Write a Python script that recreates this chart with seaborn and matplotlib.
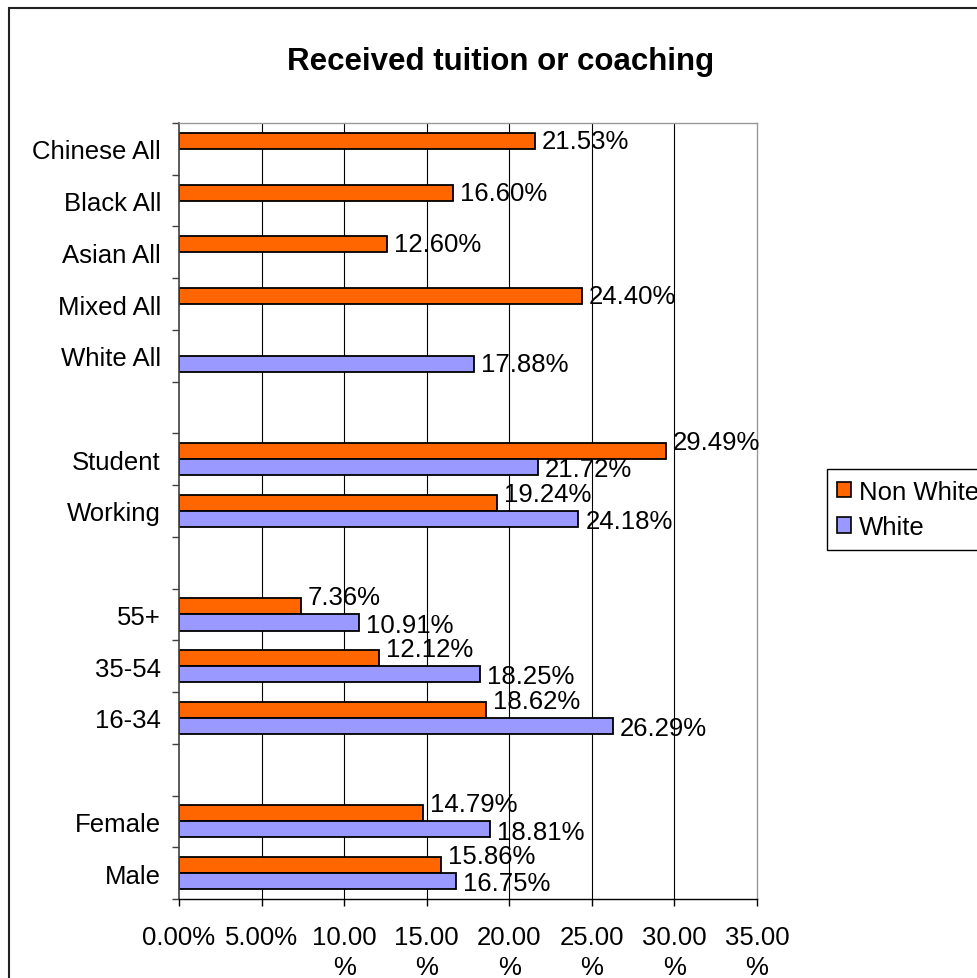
import numpy as np
import pandas as pd
import matplotlib
matplotlib.use("Agg")
import matplotlib.pyplot as plt
import matplotlib.patches as mpatches
import seaborn as sns

# categories top to bottom; "gapN" are empty spacer rows
categories = ["Chinese All", "Black All", "Asian All", "Mixed All", "White All", "gap1",
              "Student", "Working", "gap2", "55+", "35-54", "16-34", "gap3",
              "Female", "Male"]
non_white = [21.53, 16.60, 12.60, 24.40, np.nan, np.nan, 29.49, 19.24, np.nan,
             7.36, 12.12, 18.62, np.nan, 14.79, 15.86]
white = [np.nan, np.nan, np.nan, np.nan, 17.88, np.nan, 21.72, 24.18, np.nan,
         10.91, 18.25, 26.29, np.nan, 18.81, 16.75]
series_names = ["Non White", "White"]
series_colors = ["#FF6600", "#9999FF"]
xticks = [0, 5, 10, 15, 20, 25, 30, 35]

df = pd.DataFrame({"group": categories, "Non White": non_white, "White": white})
long = df.melt(id_vars="group", var_name="series", value_name="pct").dropna()

sns.set_theme(style="white")
plt.rcParams["font.family"] = ["Liberation Sans", "DejaVu Sans"]
plt.rcParams["text.color"] = "black"

FS = 18.5

fig = plt.figure(figsize=(9.78, 9.79), dpi=100)
ax = fig.add_axes([179 / 978, 1 - 900 / 979, 578 / 978, 776 / 979])

sns.barplot(data=long, y="group", x="pct", hue="series", order=categories,
            hue_order=series_names, palette=series_colors, orient="h",
            width=0.62, dodge=True, errorbar=None, edgecolor="black",
            linewidth=1.3, saturation=1, legend=False, ax=ax)

ax.set_xlim(xticks[0], xticks[-1])
ax.set_ylim(len(categories) - 0.5, -0.5)
ax.set_xlabel("")
ax.set_ylabel("")

# x axis
ax.set_xticks(xticks)
ax.set_xticklabels([f"{v:.2f}%" if v < 10 else f"{v:.2f}\n%" for v in xticks],
                   fontsize=FS, color="black")
for t in ax.get_xticklabels():
    t.set_linespacing(1.3)
ax.tick_params(axis="x", direction="out", length=5, width=1, color="black",
               pad=14, bottom=True)
for v in xticks[1:-1]:
    ax.axvline(v, color="black", lw=0.8, zorder=0)

# y axis: labels at centres, tick marks between rows
ax.set_yticks(range(len(categories)))
ax.set_yticklabels([c if not c.startswith("gap") else "" for c in categories],
                   fontsize=FS, color="black")
ax.set_yticks(np.arange(-0.5, len(categories)), minor=True)
ax.tick_params(axis="y", which="major", length=0, pad=13, left=True)
ax.tick_params(axis="y", which="minor", direction="out", length=5, width=1,
               color="#404040", left=True)

ax.spines["left"].set_color("#404040")
ax.spines["left"].set_linewidth(1.2)
ax.spines["bottom"].set_color("black")
ax.spines["bottom"].set_linewidth(1)
for s in ["top", "right"]:
    ax.spines[s].set_color("#999999")
    ax.spines[s].set_linewidth(1)

# value labels
lookup = {"Non White": white, "White": non_white}
for name, cont in zip(series_names, ax.containers):
    other = lookup[name]
    for bar in cont:
        w = bar.get_width()
        if np.isnan(w) or w == 0:
            continue
        yc = bar.get_y() + bar.get_height() / 2
        idx = int(round(yc))
        paired = not np.isnan(other[idx])
        dy = 0
        if paired:
            dy = 6.5 if name == "Non White" else -1.5
        ax.annotate(f"{w:.2f}%", xy=(w, yc), xytext=(5, dy),
                    textcoords="offset points", ha="left", va="center",
                    fontsize=FS, color="black")

# legend
handles = [mpatches.Patch(facecolor=c, edgecolor="black", lw=1.2, label=n)
           for n, c in zip(series_names, series_colors)]
leg = ax.legend(handles=handles, loc="center left",
                bbox_to_anchor=(827 / 978, 1 - 510.5 / 979),
                bbox_transform=fig.transFigure, fontsize=FS,
                frameon=True, fancybox=False, framealpha=1, edgecolor="black",
                borderaxespad=0, borderpad=0.4, handlelength=0.55,
                handleheight=0.55, handletextpad=0.3, labelspacing=0.45)
leg.get_frame().set_linewidth(1)

fig.text(501 / 978, 1 - 70 / 979, "Received tuition or coaching",
         ha="center", va="baseline", fontsize=22.5, fontweight="bold",
         color="black")

# chart-area border (cropped on the right and bottom)
fig.add_artist(mpatches.Rectangle((9 / 978, -0.05), 1.1, 1 - 9 / 979 + 0.05,
                                  transform=fig.transFigure, fill=False,
                                  edgecolor="#222222", lw=1.5))

fig.savefig("out.png", dpi=100)
